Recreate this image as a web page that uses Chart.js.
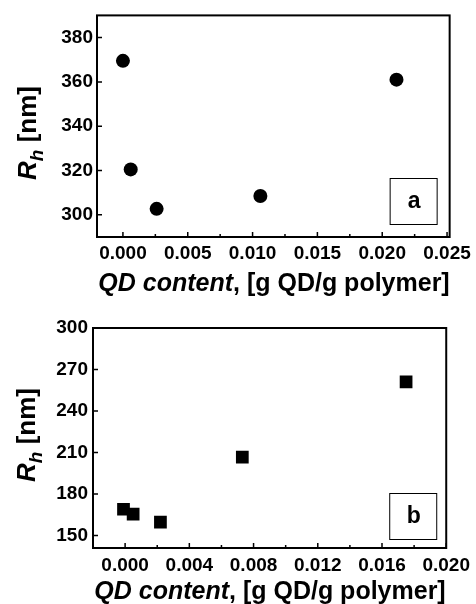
<!DOCTYPE html>
<html>
<head>
<meta charset="utf-8">
<script src="https://cdn.jsdelivr.net/npm/chart.js@4"></script>
<style>
  body { margin: 0; background: #fff; }
  #wrap { position: relative; width: 476px; height: 604px; overflow: hidden; font-family: 'Liberation Sans', Arial, sans-serif; }
  canvas { position: absolute; left: 0; }
  .xtitle, .ytitle { position: absolute; font-weight: bold; white-space: nowrap; color: #000; }
  .xtitle { font-size: 25px; transform: translate(-50%, -50%); }
  .ytitle { font-size: 26px; transform: translate(-50%, -50%) rotate(-90deg); }
  .ytitle sub { font-size: 19px; }
</style>
</head>
<body>
<div id="wrap">
  <canvas id="chartA" width="476" height="300" style="top:0"></canvas>
  <canvas id="chartB" width="476" height="304" style="top:300px"></canvas>
  <div class="ytitle" style="left:30px; top:133px"><i>R</i><sub><i>h</i></sub> [nm]</div>
  <div class="xtitle" style="left:274px; top:282px"><i>QD content</i>, [g QD/g polymer]</div>
  <div class="ytitle" style="left:29px; top:435px"><i>R</i><sub><i>h</i></sub> [nm]</div>
  <div class="xtitle" style="left:270px; top:590px"><i>QD content</i>, [g QD/g polymer]</div>
</div>
<script>
// panel a: circles
const qdContentA = [0.0, 0.0006, 0.0026, 0.0106, 0.0211];
const radiusA = [369.5, 320.5, 302.7, 308.5, 361];
const xTicksA = [0, 0.005, 0.01, 0.015, 0.02, 0.025];
const xMinorA = [0.0025, 0.0075, 0.0125, 0.0175, 0.0225];
const yTicksA = [300, 320, 340, 360, 380];

// panel b: squares
const qdContentB = [-0.0001, 0.0005, 0.0022, 0.0073, 0.0175];
const radiusB = [169, 165.5, 159.7, 206.6, 261];
const xTicksB = [0, 0.004, 0.008, 0.012, 0.016, 0.02];
const xMinorB = [0.002, 0.006, 0.01, 0.014, 0.018];
const yTicksB = [150, 180, 210, 240, 270, 300];

const tickFont = { family: "'Liberation Sans', Arial, sans-serif", size: 19, weight: 'bold' };

// box, inward ticks and the panel letter
const framePlugin = {
  id: 'frame',
  afterDraw(chart, args, opts) {
    const { ctx, chartArea } = chart;
    const { left, top, right, bottom } = chartArea;
    const x = chart.scales.x;
    const y = chart.scales.y;
    ctx.save();
    ctx.strokeStyle = '#000';
    ctx.lineWidth = 2;
    ctx.strokeRect(left, top, right - left, bottom - top);

    ctx.lineWidth = 1.5;
    ctx.beginPath();
    opts.xMajor.forEach((v) => {
      const px = x.getPixelForValue(v);
      ctx.moveTo(px, bottom);
      ctx.lineTo(px, bottom - 5);
    });
    opts.xMinor.forEach((v) => {
      const px = x.getPixelForValue(v);
      ctx.moveTo(px, bottom);
      ctx.lineTo(px, bottom - 3);
    });
    opts.yMajor.forEach((v) => {
      const py = y.getPixelForValue(v);
      ctx.moveTo(left, py);
      ctx.lineTo(left + 5, py);
    });
    ctx.stroke();

    // letter box
    const bw = 47, bh = 46;
    const bx = right - opts.boxRight - bw;
    const by = bottom - opts.boxBottom - bh;
    ctx.lineWidth = 1;
    ctx.strokeRect(bx + 0.5, by + 0.5, bw, bh);
    ctx.fillStyle = '#000';
    ctx.font = "bold 23px 'Liberation Sans', Arial, sans-serif";
    ctx.textAlign = 'center';
    ctx.textBaseline = 'middle';
    ctx.fillText(opts.letter, bx + bw / 2 + 1, by + bh / 2 + 1);
    ctx.restore();
  },
};

function createPanel(canvasId, xs, ys, cfg) {
  const points = xs.map((v, i) => ({ x: v, y: ys[i] }));
  return new Chart(document.getElementById(canvasId), {
    type: 'scatter',
    data: {
      datasets: [
        {
          data: points,
          pointStyle: cfg.pointStyle,
          pointRadius: cfg.pointRadius,
          backgroundColor: '#000',
          borderColor: '#000',
          borderWidth: 0,
        },
      ],
    },
    options: {
      responsive: false,
      animation: false,
      layout: { padding: cfg.padding },
      plugins: {
        legend: { display: false },
        tooltip: { enabled: false },
        frame: cfg.frame,
      },
      scales: {
        x: {
          type: 'linear',
          min: cfg.xMin,
          max: cfg.xMax,
          grid: { display: false, drawTicks: false },
          border: { display: false },
          afterBuildTicks: (s) => { s.ticks = cfg.frame.xMajor.map((v) => ({ value: v })); },
          afterFit: (s) => { s.height = cfg.xHeight; },
          ticks: {
            color: '#000',
            font: tickFont,
            padding: cfg.xPad,
            maxRotation: 0,
            autoSkip: false,
            callback: (v) => v.toFixed(3),
          },
        },
        y: {
          min: cfg.yMin,
          max: cfg.yMax,
          grid: { display: false, drawTicks: false },
          border: { display: false },
          afterBuildTicks: (s) => { s.ticks = cfg.frame.yMajor.map((v) => ({ value: v })); },
          afterFit: (s) => { s.width = cfg.yWidth; },
          ticks: {
            color: '#000',
            font: tickFont,
            padding: cfg.yPad,
            autoSkip: false,
          },
        },
      },
    },
    plugins: [framePlugin],
  });
}

createPanel('chartA', qdContentA, radiusA, {
  pointStyle: 'circle',
  pointRadius: 7,
  xMin: -0.002,
  xMax: 0.0252,
  yMin: 290,
  yMax: 390,
  padding: { top: 15, right: 24, left: 0, bottom: 0 },
  yWidth: 97,
  xHeight: 63,
  xPad: 5,
  yPad: 4,
  frame: { xMajor: xTicksA, xMinor: xMinorA, yMajor: yTicksA, letter: 'a', boxRight: 13, boxBottom: 13 },
});

createPanel('chartB', qdContentB, radiusB, {
  pointStyle: 'rect',
  pointRadius: 9,
  xMin: -0.002,
  xMax: 0.02,
  yMin: 141,
  yMax: 300,
  padding: { top: 28, right: 29, left: 0, bottom: 0 },
  yWidth: 93,
  xHeight: 56,
  xPad: 6,
  yPad: 5,
  frame: { xMajor: xTicksB, xMinor: xMinorB, yMajor: yTicksB, letter: 'b', boxRight: 10, boxBottom: 9 },
});
</script>
</body>
</html>
